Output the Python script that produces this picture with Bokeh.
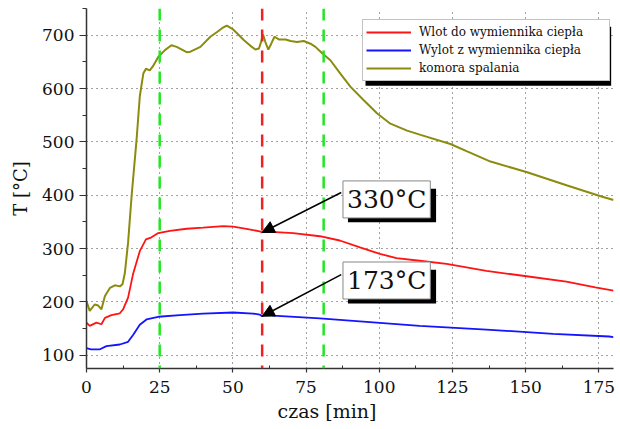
from bokeh.plotting import figure
from bokeh.models import (Range1d, FixedTicker, Span, Label, Arrow, NormalHead,
                          Legend, LegendItem, BoxAnnotation, Title)
from bokeh.embed import file_html
from bokeh.resources import INLINE

# --- measured temperatures -------------------------------------------------
# combustion chamber (komora spalania)
t_komora = [0, 1.1, 2.8, 4, 5.1, 6.3, 8, 9.7, 11.4, 12.3, 13.1, 14.2, 15.4, 17.1,
            18.2, 19.4, 20.3, 21.6, 22.6, 24.5, 26.8, 29, 30.8, 34.2, 35.5, 38.9,
            42.3, 44.6, 46.3, 47.9, 49.8, 51.5, 53.7, 56, 57.7, 58.9, 59.6, 60.3,
            61.1, 62.1, 63.1, 64.2, 65.7, 68, 69.7, 71.9, 74.2, 76.5, 78.2, 80.5,
            83.3, 86.7, 90.2, 94.7, 99.3, 103.8, 109.5, 114.1, 124.3, 130, 138,
            150.5, 164.2, 175.6, 180]
T_komora = [201, 183, 195, 193, 186, 211, 226, 231, 229, 233, 254, 311, 398, 504,
            585, 628, 637, 634, 641, 659, 672, 681, 678, 668, 669, 678,
            697, 706, 713, 718, 712, 703, 691, 680, 673, 675, 687, 701,
            687, 673, 684, 697, 692, 692, 689, 687, 689, 684, 678, 666,
            653, 628, 603, 578, 553, 534, 521, 513, 496, 482, 463,
            443, 418, 398, 391]

# heat exchanger inlet (wlot)
t_wlot = [0, 1.1, 3.4, 5.1, 6.3, 8.5, 11.4, 12.5, 14.2, 15.9, 18.2, 20.3, 22.2,
          24.5, 28.5, 34.2, 39.8, 46.7, 50.1, 54.6, 59.2, 60, 60.9, 63.2, 70.6,
          79.7, 86.5, 93.4, 100.2, 105.9, 113.8, 123, 136.6, 150.3, 163.9, 173.8,
          180]
T_wlot = [161, 155, 161, 158, 170, 175, 178.5, 186, 208, 252, 295, 317, 321,
          329, 333, 337, 339, 342, 341, 337, 332, 330, 336, 331, 329,
          323, 315, 302, 290, 282, 277, 271, 258, 248, 238, 227,
          221]

# heat exchanger outlet (wylot)
t_wylot = [0, 1.5, 4.6, 6.8, 11.4, 14.2, 15.9, 18.2, 20.5, 24.5, 31.9, 39.8,
           50.1, 56.9, 59.2, 60, 61.5, 63.8, 79.7, 96.8, 113.8, 136.6, 159.4,
           178.5, 180]
T_wylot = [113, 111, 111, 117, 120, 125, 138, 157, 167, 172, 175, 178,
           180, 178, 176, 173, 179, 174, 169, 162, 155, 148, 140,
           135, 134]

x_ticks = [0, 25, 50, 75, 100, 125, 150, 175]
y_ticks = [100, 200, 300, 400, 500, 600, 700]

green_marks = [25, 81]   # green dashed markers [min]
red_mark = 60            # red dashed marker [min]
annot_wlot = "330°C"
annot_wylot = "173°C"

SERIF = "DejaVu Serif"

p = figure(width=620, height=429, x_range=Range1d(0, 180), y_range=Range1d(75, 750),
           output_backend="svg", toolbar_location=None,
           min_border_left=86, min_border_right=7, min_border_top=8,
           min_border_bottom=61)
p.outline_line_color = None
p.background_fill_color = "white"

# axes
p.xaxis.ticker = FixedTicker(ticks=x_ticks, minor_ticks=[t + 12.5 for t in x_ticks])
p.yaxis.ticker = FixedTicker(ticks=y_ticks, minor_ticks=[t + 50 for t in [0] + y_ticks])
for ax in (p.xaxis, p.yaxis):
    ax.axis_line_color = "#333333"
    ax.axis_line_width = 1.5
    ax.major_tick_line_color = "#333333"
    ax.minor_tick_line_color = "#333333"
    ax.major_tick_line_width = 1.2
    ax.major_label_text_font = SERIF
    ax.major_label_text_font_size = "17px"
    ax.major_label_text_color = "#111111"
    ax.axis_label_text_font = SERIF
    ax.axis_label_text_font_size = "18px"
    ax.axis_label_text_font_style = "normal"
    ax.axis_label_text_color = "#111111"

p.xaxis.major_tick_out = 4
p.xaxis.major_tick_in = 0
p.xaxis.minor_tick_in = 3
p.xaxis.minor_tick_out = 0
p.xaxis.major_label_standoff = 8

p.yaxis.axis_label = "T [°C]"
p.yaxis.major_tick_out = 7
p.yaxis.major_tick_in = 0
p.yaxis.minor_tick_out = 4
p.yaxis.minor_tick_in = 0
p.yaxis.major_label_standoff = 5
p.yaxis.axis_label_standoff = 8

# x-axis title, set slightly left of the frame centre
p.add_layout(Title(text="czas [min]", align="left", offset=191, standoff=4,
                   text_font=SERIF, text_font_size="19px", text_font_style="normal",
                   text_color="#111111"), "below")

# dotted grid
for g in (p.xgrid, p.ygrid):
    g.grid_line_color = "#444444"
    g.grid_line_dash = "1 4"
    g.grid_line_width = 1

# dashed time markers
for gm in green_marks:
    p.add_layout(Span(location=gm, dimension="height", line_color="#22e622",
                      line_width=2.5, line_dash="12 9"))
p.add_layout(Span(location=red_mark, dimension="height", line_color="#ee2222",
                  line_width=2.5, line_dash="12 9"))

# series
r_wlot = p.line(t_wlot, T_wlot, line_color="#ff1414", line_width=1.8)
r_wylot = p.line(t_wylot, T_wylot, line_color="#1414ff", line_width=1.8)
r_kom = p.line(t_komora, T_komora, line_color="#8b8b10", line_width=2)

# boxed annotations with drop shadows, arrows to the values at the red marker
def shadow_box(left, right, bottom, top):
    p.add_layout(BoxAnnotation(left=left, right=right, bottom=bottom, top=top,
                               fill_color="black", fill_alpha=1, line_color=None,
                               level="annotation"))

def boxed(text, x, y):
    p.add_layout(Label(x=x, y=y, text=text, text_font=SERIF, text_font_size="25px",
                       text_align="left", text_baseline="middle", padding=4,
                       text_color="#111111", background_fill_color="white",
                       border_line_color="#888888", border_line_width=1))

wlot_at_mark = T_wlot[t_wlot.index(red_mark)]
wylot_at_mark = T_wylot[t_wylot.index(red_mark)]

p.add_layout(Arrow(x_start=87, y_start=405, x_end=red_mark, y_end=wlot_at_mark,
                   line_color="black", line_width=1.5,
                   end=NormalHead(size=12, fill_color="black", line_color="black")))
p.add_layout(Arrow(x_start=87, y_start=251, x_end=red_mark, y_end=wylot_at_mark,
                   line_color="black", line_width=1.5,
                   end=NormalHead(size=12, fill_color="black", line_color="black")))
shadow_box(89.3, 119.4, 349, 412)
boxed(annot_wlot, 87.6, 392)
shadow_box(89.3, 119.4, 197, 260)
boxed(annot_wylot, 87.6, 240)

# legend with a drop shadow
shadow_box(95.3, 179.2, 605, 716)
items = [LegendItem(label="Wlot do wymiennika ciepła", renderers=[r_wlot]),
         LegendItem(label="Wylot z wymiennika ciepła", renderers=[r_wylot]),
         LegendItem(label="komora spalania", renderers=[r_kom])]
legend = Legend(items=items, location=(276, 287), background_fill_color="white",
                background_fill_alpha=1, border_line_color="#888888",
                border_line_width=1, label_text_color="#111111",
                label_text_font=SERIF, label_text_font_size="12px",
                label_height=18, glyph_height=18, glyph_width=45, spacing=0,
                padding=3, margin=0, label_standoff=8, label_width=187)
p.add_layout(legend)

open("out.html", "w").write(file_html(p, INLINE))
